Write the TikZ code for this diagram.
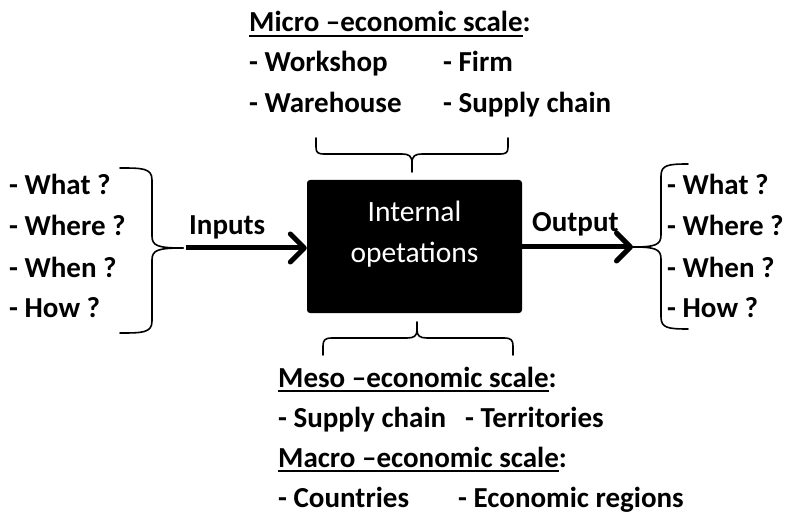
\documentclass[tikz,border=0pt]{standalone}
\usepackage{fontspec}
\setmainfont{Carlito}
\usetikzlibrary{arrows.meta}
\newsavebox\ulbox
\newcommand\ulx[1]{\sbox\ulbox{#1}\rlap{\rule[-5pt]{\wd\ulbox}{2pt}}\usebox\ulbox}
\begin{document}
\begin{tikzpicture}[x=1pt,y=-1pt,
  txt/.style={inner sep=0pt, anchor=base west, font=\bfseries\fontsize{29}{35}\selectfont},
  boxtxt/.style={inner sep=0pt, anchor=base, text=white, font=\fontsize{29.5}{36}\selectfont},
  brc/.style={line width=1.6pt, line cap=round, line join=round},
  arr/.style={line width=5pt, -{Straight Barb[length=14pt,width=28pt,line width=5pt,round]}}]
\useasboundingbox (0,0) rectangle (786,518);

% central box
\node[fill=black, rounded corners=3pt, minimum width=215pt, minimum height=133pt, inner sep=0pt] (box) at (414.5,246.5) {};
\node[boxtxt] (bt1) at (414.5,222) {Internal};
\node[boxtxt] (bt2) at (414.5,262) {opetations};

% top texts
\node[txt] (micro) at (249,32) {\ulx{Micro –economic scale}:};
\node[txt] (work) at (249,72) {- Workshop};
\node[txt] (firm) at (443,72) {- Firm};
\node[txt] (ware) at (249,113) {- Warehouse};
\node[txt] (supp1) at (443,113) {- Supply chain};

% bottom texts
\node[txt] (meso) at (278,387) {\ulx{Meso –economic scale}:};
\node[txt] (supp2) at (278,427) {- Supply chain};
\node[txt] (terr) at (465,427) {- Territories};
\node[txt] (macro) at (278,467) {\ulx{Macro –economic scale}:};
\node[txt] (coun) at (278,507) {- Countries};
\node[txt] (econ) at (458,507) {- Economic regions};

% left list
\node[txt] (lw1) at (9,195) {- What ?};
\node[txt] (lw2) at (9,236) {- Where ?};
\node[txt] (lw3) at (9,277) {- When ?};
\node[txt] (lw4) at (9,317) {- How ?};

% right list
\node[txt] (rw1) at (667,195) {- What ?};
\node[txt] (rw2) at (667,236) {- Where ?};
\node[txt] (rw3) at (667,277) {- When ?};
\node[txt] (rw4) at (667,317) {- How ?};

% labels
\node[txt] (inl) at (189,235) {Inputs};
\node[txt] (outl) at (532,232) {Output};

% braces
\coordinate (lt) at (183,248);
\coordinate (rt) at (633,247);
\draw[brc] (120,168) .. controls (142,168) and (152,168) .. (152,180) -- (152,236) .. controls (152,246) and (158,248) .. (lt);
\draw[brc] (lt) .. controls (158,248) and (152,250) .. (152,260) -- (152,321) .. controls (152,333) and (142,333) .. (120,333);

\draw[brc] (688,164) .. controls (668,164) and (661,165) .. (661,176) -- (661,235) .. controls (661,245) and (655,247) .. (rt);
\draw[brc] (rt) .. controls (655,247) and (661,249) .. (661,259) -- (661,317) .. controls (661,328) and (668,329) .. (688,329);

\draw[brc] (316,138) -- (316,147) .. controls (316,153) and (318,154) .. (325,154) -- (402,154) .. controls (409,154) and (412,156) .. (412,163) -- (412,172);
\draw[brc] (412,163) .. controls (412,156) and (415,154) .. (422,154) -- (499,154) .. controls (506,154) and (508,153) .. (508,147) -- (508,138);

\draw[brc] (417,322) -- (417,330) .. controls (417,336) and (414,338) .. (407,338) -- (332,338) .. controls (325,338) and (323,340) .. (323,346) -- (323,355);
\draw[brc] (417,330) .. controls (417,336) and (420,338) .. (427,338) -- (504,338) .. controls (511,338) and (513,340) .. (513,346) -- (513,355);

% arrows
\draw[arr, shorten <=3pt] (lt) -- (lt -| box.west);
\draw[arr] (rt -| box.east) -- (rt);
\end{tikzpicture}
\end{document}
